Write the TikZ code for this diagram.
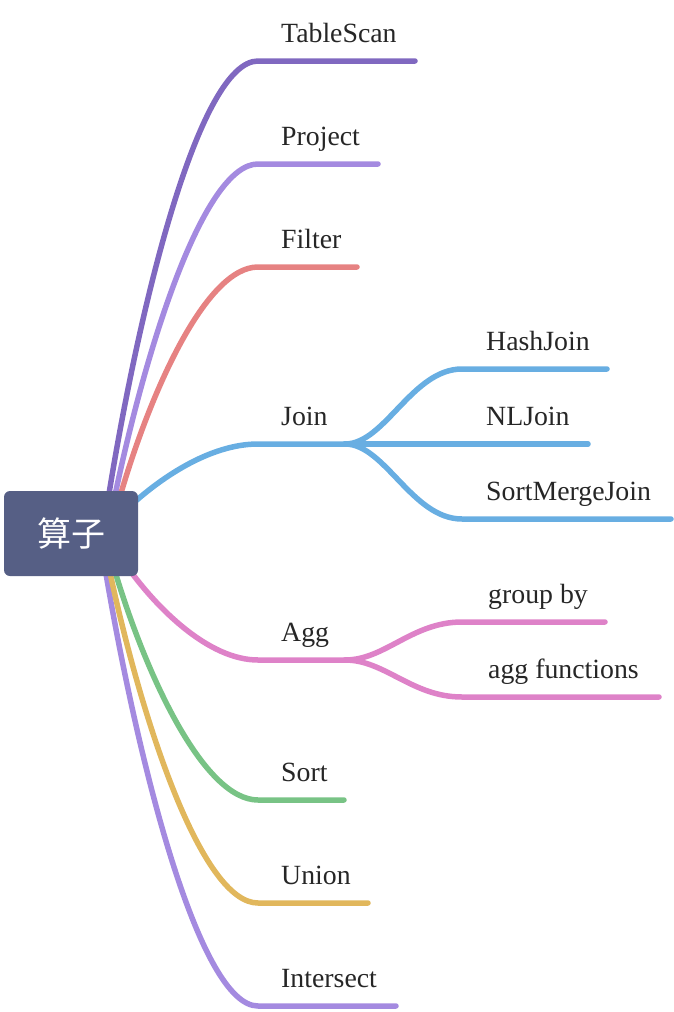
\documentclass[tikz,border=0pt]{standalone}
\usepackage{fontspec}
\setmainfont{Liberation Serif}
\newfontfamily\lblfont{Liberation Serif}
\newfontfamily\cjkfont{Noto Sans CJK SC}
\pgfdeclarelayer{bg}
\pgfsetlayers{bg,main}
\definecolor{cTS}{HTML}{8068C0}
\definecolor{cPr}{HTML}{A48AE0}
\definecolor{cFi}{HTML}{E68282}
\definecolor{cJo}{HTML}{68AEE2}
\definecolor{cAg}{HTML}{DE82C8}
\definecolor{cSo}{HTML}{78C385}
\definecolor{cUn}{HTML}{E1B75C}
\definecolor{cIn}{HTML}{A48AE0}
\definecolor{rootc}{HTML}{565F85}
\definecolor{textc}{HTML}{262626}
\tikzset{
  branch/.style={line width=5.5pt, line cap=round, line join=round},
  lbl/.style={anchor=base west, inner sep=0pt, text=textc, font=\lblfont\fontsize{27.8}{30}\selectfont},
  rootbox/.style={fill=rootc, rounded corners=6pt, minimum width=134pt, minimum height=85pt,
    inner sep=0pt, text=white, font=\cjkfont\fontsize{34}{38}\selectfont}
}
\begin{document}
\begin{tikzpicture}[x=1pt,y=-1pt]
\useasboundingbox (0,0) rectangle (674,1012);
\node[rootbox] (root) at (71,533.5) {算子};

% labels
\node[lbl] (tsL) at (281,42) {TableScan};
\node[lbl] (prL) at (281,145) {Project};
\node[lbl] (fiL) at (281,248) {Filter};
\node[lbl] (joL) at (281,425) {Join};
\node[lbl] (agL) at (281,641) {Agg};
\node[lbl] (soL) at (281,781) {Sort};
\node[lbl] (unL) at (281,884) {Union};
\node[lbl] (inL) at (281,987) {Intersect};
\node[lbl] (hjL) at (486,350) {HashJoin};
\node[lbl] (nlL) at (486,425) {NLJoin};
\node[lbl] (smL) at (486,500) {SortMergeJoin};
\node[lbl] (gbL) at (488,603) {group by};
\node[lbl] (afL) at (488,678) {agg functions};

% coordinates
\coordinate (tsS) at (108,500); \coordinate (tsA) at (258,61);   \coordinate (tsE) at (415,61);
\coordinate (prS) at (114,500); \coordinate (prA) at (258,164);  \coordinate (prE) at (378,164);
\coordinate (fiS) at (119,500); \coordinate (fiA) at (258,267);  \coordinate (fiE) at (357,267);
\coordinate (joS) at (128,508); \coordinate (joA) at (258,444);  \coordinate (joH) at (345,444);
\coordinate (agS) at (126,565); \coordinate (agA) at (258,660);  \coordinate (agH) at (345,660);
\coordinate (soS) at (114,568); \coordinate (soA) at (258,800);  \coordinate (soE) at (344,800);
\coordinate (unS) at (109,568); \coordinate (unA) at (258,903);  \coordinate (unE) at (368,903);
\coordinate (inS) at (105,568); \coordinate (inA) at (258,1006); \coordinate (inE) at (396,1006);
\coordinate (hjA) at (462,369); \coordinate (hjE) at (607,369);
\coordinate (nlE) at (588,444);
\coordinate (smA) at (462,519); \coordinate (smE) at (671,519);
\coordinate (gbA) at (462,622); \coordinate (gbE) at (605,622);
\coordinate (afA) at (462,697); \coordinate (afE) at (659,697);

\begin{pgfonlayer}{bg}
\draw[branch, cTS] (tsS) .. controls (140,300) and (200,61) .. (tsA) -- (tsE);
\draw[branch, cPr] (prS) .. controls (146,346) and (204,164) .. (prA) -- (prE);
\draw[branch, cFi] (fiS) .. controls (150,392) and (206,267) .. (fiA) -- (fiE);
\draw[branch, cIn] (inS) .. controls (139,769) and (200,1006) .. (inA) -- (inE);
\draw[branch, cUn] (unS) .. controls (142,723) and (202,903) .. (unA) -- (unE);
\draw[branch, cSo] (soS) .. controls (146,676) and (204,800) .. (soA) -- (soE);
\draw[branch, cJo] (joS) .. controls (160,478) and (210,444) .. (joA) -- (joH);
\draw[branch, cAg] (agS) .. controls (157,609) and (209,660) .. (agA) -- (agH);
% join children
\draw[branch, cJo] (joH) .. controls (385,444) and (412,369) .. (hjA) -- (hjE);
\draw[branch, cJo] (joH) -- (nlE);
\draw[branch, cJo] (joH) .. controls (385,444) and (412,519) .. (smA) -- (smE);
% agg children
\draw[branch, cAg] (agH) .. controls (385,660) and (412,622) .. (gbA) -- (gbE);
\draw[branch, cAg] (agH) .. controls (385,660) and (412,697) .. (afA) -- (afE);
\end{pgfonlayer}
\end{tikzpicture}
\end{document}
